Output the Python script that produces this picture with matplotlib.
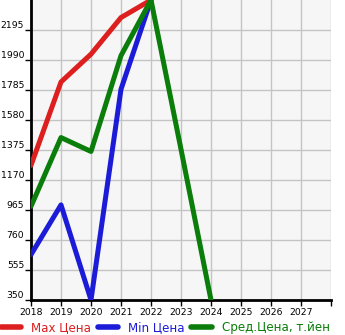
import matplotlib
matplotlib.use("Agg")
from matplotlib import pyplot as plt
import numpy as np

years = [2018, 2019, 2020, 2021, 2022, 2023, 2024]
max_price = [1270, 1840, 2030, 2280, 2400]
min_price = [660, 1000, 350, 1790, 2400]
avg_price = [990, 1460, 1365, 2020, 2400, 1380, 350]

yticks = [350, 555, 760, 965, 1170, 1375, 1580, 1785, 1990, 2195]
xticks = list(range(2018, 2029))
xlabels = [str(x) for x in range(2018, 2028)] + [""]

labels = ["Max Цена", "Min Цена", "Сред.Цена, т.йен"]
colors = ["#dd1f1f", "#1c1cd8", "#0a7d0a"]

fig = plt.figure(figsize=(3.45, 3.35), dpi=100)
ax = fig.add_axes([31/345, 35/335, 300/345, 300/335])
ax.set_facecolor("#f6f6f6")

lw = 3.6
ax.plot(years[:5], max_price, color=colors[0], lw=lw, solid_capstyle="round", label=labels[0], zorder=3)
ax.plot(years[:5], min_price, color=colors[1], lw=lw, solid_capstyle="round", label=labels[1], zorder=4)
ax.plot(years, avg_price, color=colors[2], lw=lw, solid_capstyle="round", label=labels[2], zorder=5)

ax.set_xlim(2018, 2028)
ax.set_ylim(350, 2400)
ax.set_xticks(xticks)
ax.set_xticklabels(xlabels)
ax.set_yticks(yticks)
ax.grid(True, color="#c4c4c4", lw=1)
ax.set_axisbelow(True)

for s in ["top", "right"]:
    ax.spines[s].set_visible(False)
for s in ["left", "bottom"]:
    ax.spines[s].set_linewidth(2)
    ax.spines[s].set_color("black")

ax.tick_params(axis="both", labelsize=6.7, length=4, width=1, colors="black")
ax.tick_params(axis="y", pad=1)
ax.tick_params(axis="x", pad=2)
for lab in ax.get_yticklabels():
    lab.set_va("bottom")

leg = fig.legend(loc="center left", bbox_to_anchor=(0.5/345, 1 - 328/335),
                 ncol=3, frameon=False, fontsize=8.6, borderpad=0, borderaxespad=0,
                 handlelength=1.75, handletextpad=0.8, columnspacing=0.55)
for line in leg.get_lines():
    line.set_linewidth(4)
    line.set_solid_capstyle("round")
for t, c in zip(leg.get_texts(), colors):
    t.set_color(c)

fig.savefig("out.png", dpi=100)
